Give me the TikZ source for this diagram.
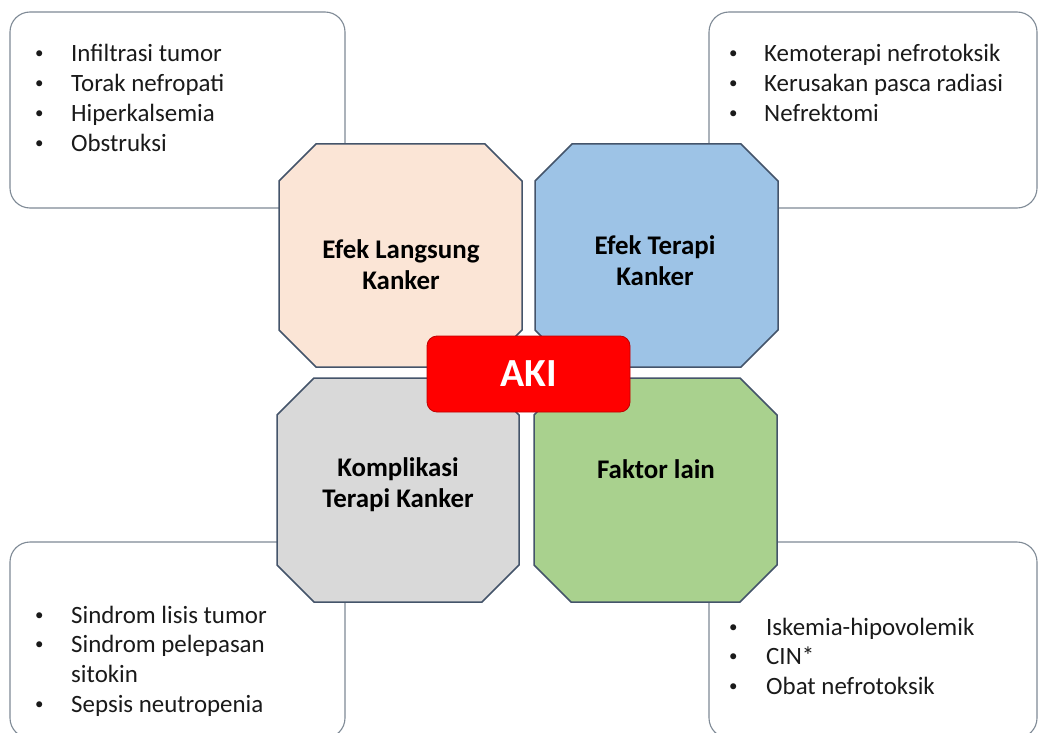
\documentclass[tikz,border=0pt]{standalone}
\usepackage{fontspec}
\setmainfont{Carlito}
\definecolor{peach}{HTML}{FBE5D6}
\definecolor{skyblue}{HTML}{9DC3E6}
\definecolor{lightgray}{HTML}{D9D9D9}
\definecolor{leafgreen}{HTML}{A9D18E}
\definecolor{octline}{HTML}{44546A}
\definecolor{boxline}{HTML}{7F8A96}
\definecolor{akired}{HTML}{FF0000}
\definecolor{akiline}{HTML}{C00000}
\definecolor{inktext}{HTML}{1A1A1A}
% chamfered square: left, top, right, bottom, style
\newcommand\octagonshape[5]{%
  \draw[#5] (#1+37,#2) -- (#3-37,#2) -- (#3,#2+37) -- (#3,#4-37)
    -- (#3-37,#4) -- (#1+37,#4) -- (#1,#4-37) -- (#1,#2+37) -- cycle;}
% small list bullet
\newcommand\itemdot{\raisebox{3bp}{\fontsize{17}{17}\selectfont\textbullet}}
\begin{document}
\begin{tikzpicture}[x=1bp,y=-1bp,
  listbox/.style={draw=boxline, line width=1.1bp, fill=white, rounded corners=20bp},
  octa/.style={draw=octline, line width=1.5bp, line join=miter},
  listtext/.style={inner sep=0pt, anchor=base west, text=inktext,
    font=\fontsize{25}{30}\selectfont},
  octlabel/.style={inner sep=0pt, anchor=base, text=black,
    font=\fontsize{27}{32}\selectfont\bfseries},
  akibox/.style={draw=akiline, line width=0.8bp, fill=akired, rounded corners=10bp,
    minimum width=203bp, minimum height=76bp, inner sep=0pt,
    text=white, font=\fontsize{40}{44}\selectfont\bfseries}]
\useasboundingbox (0,0) rectangle (1039,733);
\fill[white] (0,0) rectangle (1039,733);

% corner boxes with bullet lists
\draw[listbox] (10,12) rectangle (345,208);
\draw[listbox] (709,12) rectangle (1037,208);
\draw[listbox] (10,542) rectangle (345,738);
\draw[listbox] (709,542) rectangle (1037,738);

\node[listtext] (tl) at (35,62) {\begin{tabular}[t]{@{}p{36bp}@{}l@{}}
  \itemdot & Infiltrasi tumor\\
  \itemdot & Torak nefropati\\
  \itemdot & Hiperkalsemia\\
  \itemdot & Obstruksi
\end{tabular}};
\node[listtext] (tr) at (729,62) {\begin{tabular}[t]{@{}p{35bp}@{}l@{}}
  \itemdot & Kemoterapi nefrotoksik\\
  \itemdot & Kerusakan pasca radiasi\\
  \itemdot & Nefrektomi
\end{tabular}};
\node[listtext] (bl) at (35,623) {\begin{tabular}[t]{@{}p{36bp}@{}l@{}}
  \itemdot & Sindrom lisis tumor\\
  \itemdot & Sindrom pelepasan\\
           & sitokin\\
  \itemdot & Sepsis neutropenia
\end{tabular}};
\node[listtext] (br) at (729,635) {\begin{tabular}[t]{@{}p{37bp}@{}l@{}}
  \itemdot & Iskemia-hipovolemik\\
  \itemdot & CIN*\\
  \itemdot & Obat nefrotoksik
\end{tabular}};

% four cause groups
\octagonshape{279}{144}{522}{367}{octa, fill=peach}
\octagonshape{535}{144}{778}{367}{octa, fill=skyblue}
\octagonshape{277}{378}{519}{602}{octa, fill=lightgray}
\octagonshape{534}{378}{777}{602}{octa, fill=leafgreen}

\node[octlabel] (direct) at (401,258) {\begin{tabular}[t]{@{}c@{}}Efek Langsung\\Kanker\end{tabular}};
\node[octlabel] (therapy) at (655,254) {\begin{tabular}[t]{@{}c@{}}Efek Terapi\\Kanker\end{tabular}};
\node[octlabel] (complication) at (398,476) {\begin{tabular}[t]{@{}c@{}}Komplikasi\\Terapi Kanker\end{tabular}};
\node[octlabel] (other) at (656,478) {Faktor lain};

% centre label
\node[akibox] (aki) at (528.5,374) {AKI};
\end{tikzpicture}
\end{document}
